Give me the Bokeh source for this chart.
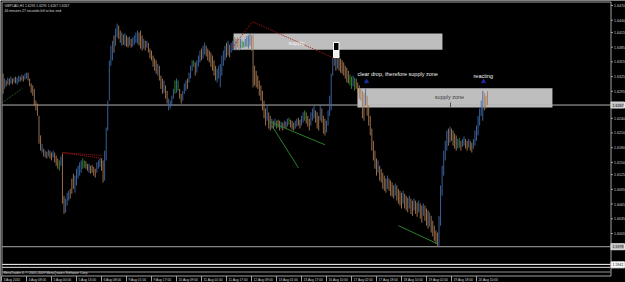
from bokeh.plotting import figure
from bokeh.models import Range1d
from bokeh.embed import file_html
from bokeh.resources import INLINE
from bokeh.core.properties import value

# ---------------- data ----------------
symbol_line = "GBPCAD,H1  1.6295 1.6295 1.6267 1.6267"
timer_line = "46 minutes 27 seconds left to bar end"
footer_line = "MetaTrader 4, \u00a9 2001-2009 MetaQuotes Software Corp."

high = [
    1.6331, 1.6321, 1.6317, 1.6323, 1.6321, 1.6325, 1.6321, 1.6323, 1.6325, 1.6323,
    1.6327, 1.6325, 1.6329, 1.6327, 1.6331, 1.6333, 1.6333, 1.6321, 1.6311, 1.6307,
    1.6300, 1.6276, 1.6270, 1.6245, 1.6205, 1.6188, 1.6178, 1.6174, 1.6172, 1.6176,
    1.6174, 1.6170, 1.6174, 1.6170, 1.6164, 1.6158, 1.6154, 1.6162, 1.6168, 1.6082,
    1.6076, 1.6088, 1.6092, 1.6096, 1.6117, 1.6127, 1.6123, 1.6137, 1.6143, 1.6150,
    1.6154, 1.6158, 1.6154, 1.6152, 1.6147, 1.6147, 1.6143, 1.6145, 1.6141, 1.6137,
    1.6150, 1.6154, 1.6158, 1.6158, 1.6154, 1.6174, 1.6221, 1.6276, 1.6358, 1.6388,
    1.6398, 1.6409, 1.6423, 1.6433, 1.6429, 1.6419, 1.6415, 1.6411, 1.6413, 1.6409,
    1.6405, 1.6407, 1.6402, 1.6405, 1.6409, 1.6415, 1.6419, 1.6415, 1.6419, 1.6409,
    1.6402, 1.6398, 1.6398, 1.6394, 1.6382, 1.6378, 1.6368, 1.6362, 1.6358, 1.6351,
    1.6347, 1.6327, 1.6321, 1.6317, 1.6307, 1.6296, 1.6280, 1.6276, 1.6286, 1.6300,
    1.6317, 1.6321, 1.6317, 1.6300, 1.6290, 1.6296, 1.6311, 1.6317, 1.6321, 1.6333,
    1.6347, 1.6358, 1.6358, 1.6354, 1.6358, 1.6368, 1.6378, 1.6382, 1.6388, 1.6394,
    1.6388, 1.6382, 1.6378, 1.6374, 1.6368, 1.6358, 1.6347, 1.6341, 1.6347, 1.6351,
    1.6368, 1.6378, 1.6388, 1.6394, 1.6398, 1.6390, 1.6394, 1.6398, 1.6405, 1.6402,
    1.6405, 1.6398, 1.6402, 1.6398, 1.6396, 1.6402, 1.6407, 1.6409, 1.6413, 1.6409,
    1.6411, 1.6347, 1.6337, 1.6327, 1.6317, 1.6307, 1.6296, 1.6276, 1.6260, 1.6266,
    1.6252, 1.6245, 1.6239, 1.6235, 1.6239, 1.6235, 1.6237, 1.6235, 1.6233, 1.6231,
    1.6235, 1.6233, 1.6239, 1.6241, 1.6237, 1.6235, 1.6231, 1.6235, 1.6239, 1.6241,
    1.6237, 1.6245, 1.6252, 1.6256, 1.6252, 1.6245, 1.6239, 1.6252, 1.6260, 1.6266,
    1.6256, 1.6252, 1.6245, 1.6268, 1.6260, 1.6245, 1.6239, 1.6235, 1.6256, 1.6286,
    1.6331, 1.6364, 1.6374, 1.6368, 1.6364, 1.6366, 1.6362, 1.6358, 1.6354, 1.6347,
    1.6343, 1.6337, 1.6329, 1.6325, 1.6327, 1.6323, 1.6321, 1.6313, 1.6307, 1.6300,
    1.6296, 1.6292, 1.6300, 1.6286, 1.6266, 1.6245, 1.6219, 1.6194, 1.6174, 1.6158,
    1.6154, 1.6143, 1.6137, 1.6129, 1.6123, 1.6117, 1.6123, 1.6117, 1.6113, 1.6109,
    1.6103, 1.6107, 1.6103, 1.6096, 1.6092, 1.6088, 1.6092, 1.6086, 1.6082, 1.6078,
    1.6082, 1.6076, 1.6072, 1.6076, 1.6072, 1.6068, 1.6072, 1.6066, 1.6062, 1.6066,
    1.6062, 1.6056, 1.6052, 1.6048, 1.6041, 1.6031, 1.6021, 1.6011, 1.6007, 1.6041,
    1.6103, 1.6143, 1.6174, 1.6194, 1.6215, 1.6219, 1.6223, 1.6219, 1.6215, 1.6209,
    1.6205, 1.6198, 1.6200, 1.6194, 1.6198, 1.6203, 1.6198, 1.6194, 1.6198, 1.6194,
    1.6190, 1.6198, 1.6215, 1.6225, 1.6245, 1.6260, 1.6276, 1.6296, 1.6292, 1.6286, 1.6295,
]

low = [
    1.6290, 1.6300, 1.6305, 1.6309, 1.6307, 1.6311, 1.6309, 1.6313, 1.6311, 1.6309,
    1.6313, 1.6315, 1.6317, 1.6315, 1.6319, 1.6321, 1.6317, 1.6305, 1.6292, 1.6286,
    1.6266, 1.6256, 1.6245, 1.6188, 1.6174, 1.6170, 1.6162, 1.6160, 1.6158, 1.6162,
    1.6158, 1.6154, 1.6160, 1.6150, 1.6143, 1.6137, 1.6133, 1.6143, 1.6066, 1.6045,
    1.6048, 1.6062, 1.6072, 1.6076, 1.6086, 1.6096, 1.6088, 1.6103, 1.6117, 1.6123,
    1.6129, 1.6137, 1.6139, 1.6137, 1.6133, 1.6129, 1.6127, 1.6129, 1.6123, 1.6119,
    1.6129, 1.6137, 1.6141, 1.6133, 1.6109, 1.6113, 1.6154, 1.6215, 1.6276, 1.6347,
    1.6358, 1.6374, 1.6388, 1.6405, 1.6402, 1.6394, 1.6388, 1.6390, 1.6388, 1.6386,
    1.6384, 1.6388, 1.6384, 1.6386, 1.6390, 1.6394, 1.6392, 1.6388, 1.6382, 1.6378,
    1.6382, 1.6378, 1.6384, 1.6374, 1.6362, 1.6358, 1.6345, 1.6337, 1.6331, 1.6327,
    1.6317, 1.6300, 1.6290, 1.6292, 1.6280, 1.6270, 1.6256, 1.6260, 1.6266, 1.6280,
    1.6290, 1.6292, 1.6296, 1.6280, 1.6270, 1.6276, 1.6290, 1.6296, 1.6300, 1.6313,
    1.6321, 1.6337, 1.6345, 1.6327, 1.6333, 1.6345, 1.6354, 1.6358, 1.6362, 1.6370,
    1.6366, 1.6358, 1.6354, 1.6345, 1.6337, 1.6327, 1.6317, 1.6313, 1.6321, 1.6303,
    1.6327, 1.6347, 1.6358, 1.6364, 1.6368, 1.6364, 1.6374, 1.6378, 1.6382, 1.6378,
    1.6384, 1.6378, 1.6382, 1.6384, 1.6384, 1.6386, 1.6386, 1.6382, 1.6388, 1.6378,
    1.6303, 1.6307, 1.6303, 1.6300, 1.6286, 1.6276, 1.6256, 1.6240, 1.6225, 1.6235,
    1.6219, 1.6215, 1.6219, 1.6219, 1.6223, 1.6219, 1.6221, 1.6215, 1.6219, 1.6215,
    1.6221, 1.6219, 1.6223, 1.6227, 1.6221, 1.6217, 1.6215, 1.6219, 1.6223, 1.6225,
    1.6219, 1.6225, 1.6231, 1.6235, 1.6229, 1.6223, 1.6215, 1.6225, 1.6235, 1.6240,
    1.6231, 1.6219, 1.6215, 1.6235, 1.6231, 1.6209, 1.6205, 1.6211, 1.6225, 1.6245,
    1.6256, 1.6327, 1.6347, 1.6337, 1.6341, 1.6337, 1.6333, 1.6331, 1.6327, 1.6321,
    1.6313, 1.6311, 1.6307, 1.6300, 1.6305, 1.6296, 1.6300, 1.6292, 1.6280, 1.6276,
    1.6240, 1.6235, 1.6266, 1.6245, 1.6225, 1.6205, 1.6174, 1.6154, 1.6137, 1.6123,
    1.6129, 1.6113, 1.6109, 1.6096, 1.6092, 1.6088, 1.6096, 1.6092, 1.6082, 1.6080,
    1.6076, 1.6082, 1.6072, 1.6066, 1.6062, 1.6056, 1.6066, 1.6056, 1.6052, 1.6048,
    1.6056, 1.6045, 1.6041, 1.6052, 1.6045, 1.6039, 1.6048, 1.6035, 1.6027, 1.6041,
    1.6031, 1.6021, 1.6015, 1.6019, 1.6007, 1.5999, 1.5990, 1.5984, 1.5978, 1.5980,
    1.6021, 1.6082, 1.6123, 1.6154, 1.6174, 1.6184, 1.6190, 1.6194, 1.6184, 1.6178,
    1.6174, 1.6178, 1.6180, 1.6174, 1.6182, 1.6184, 1.6178, 1.6174, 1.6180, 1.6174,
    1.6170, 1.6178, 1.6184, 1.6194, 1.6205, 1.6225, 1.6245, 1.6235, 1.6256, 1.6260, 1.6267,
]

# u = bull bar, d = bear bar, n = doji
direction = (
    "dududududu" "ududuudddd" "dddddududu" "ddudddnudd" "uuuddduuuu" "unnddudddd"
    "uuudduuuuu" "uduuddudud" "duduuuuddd" "ududdddddu" "dddudduuuu" "nundduuudu"
    "uunduuuduu" "ddddddduuu" "uuududuudu" "ddunnuuuud" "dddddddddu" "ddudunddud"
    "udunddduud" "duunddduuu" "ddduddduuu" "uuududdddd" "ddnnundddd" "dduddddddd"
    "uddddduddd" "dudddduddd" "uddudduddu" "dddudddddu" "uuuuududdd" "dunduuddud"
    "duuuuuuuddd"
)

bid_price = 1.6267
hline_prices = [1.5978, 1.5942, 1.5936]
hline_label_prices = [1.5978, 1.5941]

price_ticks = [1.6470, 1.6440, 1.6415, 1.6385, 1.6355, 1.6325, 1.6295, 1.6270,
               1.6240, 1.6210, 1.6180, 1.6150, 1.6125, 1.6095, 1.6065, 1.6035,
               1.6005, 1.5975, 1.5945]

time_labels = ["3 Aug 2010", "4 Aug 08:00", "5 Aug 00:00", "5 Aug 16:00", "6 Aug 08:00",
               "9 Aug 01:00", "9 Aug 17:00", "10 Aug 09:00", "11 Aug 01:00", "11 Aug 17:00",
               "12 Aug 09:00", "13 Aug 01:00", "13 Aug 17:00", "16 Aug 10:00", "17 Aug 02:00",
               "17 Aug 18:00", "18 Aug 10:00", "19 Aug 02:00", "19 Aug 18:00", "20 Aug 10:00"]
time_tick_bars = [16 * k for k in range(len(time_labels))]

# chart objects (bar index, price)
supply_rect = (148.5, 282.2, 1.6413, 1.6380)
zone_rect = (227.8, 352.6, 1.6301, 1.6262)
red_path_x = [147.8, 160.6, 213.1]
red_path_y = [1.6384, 1.6437, 1.6362]
red_small_x = [[39.0, 64.6], [39.0, 64.6]]
red_small_y = [[1.6170, 1.6164], [1.6170, 1.6158]]
green_lines_x = [[171.5, 207.0], [173.0, 190.0], [254.0, 279.0]]
green_lines_y = [[1.6233, 1.6186], [1.6225, 1.6139], [1.6021, 1.5984]]
green_dots_x = [[0.6, 13.4]]
green_dots_y = [[1.6272, 1.6301]]
arrow_x = [233.6, 308.5]
arrow_y = [1.6315, 1.6315]

# ---------------- layout helpers (screen px -> data) ----------------
W, H = 625, 282
BAR_PX = 1.5625
PX_PER_UNIT = 4903.0
TOP = 1.64802


def bx(sx):
    return (sx - 1.0) / BAR_PX


def py(sy):
    return TOP - sy / PX_PER_UNIT


p = figure(width=W, height=H, x_range=Range1d(bx(0), bx(W)), y_range=Range1d(py(H), py(0)),
           output_backend="svg", toolbar_location=None, min_border=0,
           x_axis_location=None, y_axis_location=None,
           background_fill_color="black", border_fill_color="black")
p.grid.visible = False
p.outline_line_color = None

FONT = value("Liberation Sans")

# rectangles
for (l, r, t, b) in [supply_rect, zone_rect]:
    p.quad(left=l, right=r, top=t, bottom=b, fill_color="#bebebe", line_color=None)

# bid line and horizontal lines
p.segment(x0=bx(1.5), x1=bx(610), y0=bid_price, y1=bid_price, line_color="#b4b4b4", line_width=1)
hl_colors = ["#a8a8a8", "#ffffff", "#e8e8e8"]
p.segment(x0=[bx(1.5)] * 3, x1=[bx(610)] * 3, y0=hline_prices, y1=hline_prices,
          line_color=hl_colors, line_width=1)

# price bars
n = min(len(high), len(low), len(direction))
idx = list(range(1, n + 1))
cmap = {"u": "#3f6aa8", "d": "#a87b54", "n": "#2f8f2f"}
colors = [cmap[c] for c in direction[:n]]
p.segment(x0=idx, x1=idx, y0=low[:n], y1=high[:n], line_color=colors, line_width=0.9)

# drawings
p.line(red_path_x, red_path_y, line_color="#a81818", line_dash="1 1", line_width=1)
p.multi_line(red_small_x, red_small_y, line_color="#a81818", line_dash="1 1", line_width=1)
p.multi_line(green_lines_x, green_lines_y, line_color="#2a802a", line_width=1)
p.multi_line(green_dots_x, green_dots_y, line_color="#2a702a", line_dash="1 1", line_width=1)

# marked candle (black/white blocks)
p.quad(left=bx(333), right=bx(338.5), top=py(42), bottom=py(50), fill_color="black",
       line_color="white", line_width=1)
p.quad(left=bx(333), right=bx(338.5), top=py(50), bottom=py(57), fill_color="#f0f0f0",
       line_color="white", line_width=1)

p.scatter(arrow_x, arrow_y, marker="triangle", size=4, fill_color="#1c2c9c", line_color="#1c2c9c")
p.segment(x0=[bx(450)], x1=[bx(450)], y0=[py(102)], y1=[py(107)], line_color="#505050")

# annotation texts
p.text(x=[bx(296)], y=[py(42)], text=["supply"], text_font=FONT, text_font_size="5.5px",
       text_color="#f4f4f4", text_align="center", text_baseline="middle")
p.text(x=[bx(449)], y=[py(96)], text=["supply zone"], text_font=FONT, text_font_size="5.5px",
       text_color="#404040", text_align="center", text_baseline="middle")
p.text(x=[bx(357)], y=[py(73)], text=["clear drop, therefore supply zone"], text_font=FONT,
       text_font_size="5.5px", text_color="#f0f0f0", text_align="left", text_baseline="middle")
p.text(x=[bx(473)], y=[py(75)], text=["reacting"], text_font=FONT, text_font_size="5.5px",
       text_color="#f0f0f0", text_align="left", text_baseline="middle")

# frame
p.segment(x0=[bx(1.5), bx(1.5), bx(610.5), bx(1.5)], x1=[bx(610.5), bx(1.5), bx(610.5), bx(610.5)],
          y0=[py(1.5), py(1.5), py(1.5), py(275.5)], y1=[py(1.5), py(275.5), py(275.5), py(275.5)],
          line_color="#a0a0a0", line_width=1)
p.segment(x0=[bx(1.5)], x1=[bx(610.5)], y0=[py(271.5)], y1=[py(271.5)], line_color="#909090")

# price scale
p.segment(x0=[bx(610.5)] * len(price_ticks), x1=[bx(612.5)] * len(price_ticks),
          y0=price_ticks, y1=price_ticks, line_color="#a0a0a0")
p.text(x=[bx(613.5)] * len(price_ticks), y=price_ticks, text=["%.4f" % v for v in price_ticks],
       text_font=FONT, text_font_size="3.6px", text_color="#d0d0d0",
       text_align="left", text_baseline="middle")

# price label boxes
box_prices = [bid_price] + hline_label_prices
box_fill = ["#c0c0c0", "#c0c0c0", "#ffffff"]
p.quad(left=[bx(610.5)] * 3, right=[bx(624)] * 3,
       top=[v + 3 / PX_PER_UNIT for v in box_prices], bottom=[v - 3 / PX_PER_UNIT for v in box_prices],
       fill_color=box_fill, line_color="#e0e0e0", line_width=1)
p.text(x=[bx(612)] * 3, y=box_prices, text=["%.4f" % v for v in box_prices], text_font=FONT,
       text_font_size="3.6px", text_color="black", text_align="left", text_baseline="middle")

# time scale
p.segment(x0=time_tick_bars, x1=time_tick_bars, y0=[py(275.5)] * len(time_tick_bars),
          y1=[py(281)] * len(time_tick_bars), line_color="#a0a0a0")
p.text(x=[t + bx(3) - bx(1) for t in time_tick_bars], y=[py(279)] * len(time_tick_bars),
       text=time_labels, text_font=FONT, text_font_size="3.3px", text_color="#d0d0d0",
       text_align="left", text_baseline="middle")

# header and footer
p.text(x=[bx(4), bx(4), bx(3)], y=[py(5), py(10.5), py(272.5)],
       text=[symbol_line, timer_line, footer_line], text_font=FONT, text_font_size="3.4px",
       text_color="#d8d8d8", text_align="left", text_baseline="middle")

open("out.html", "w").write(file_html(p, INLINE))
